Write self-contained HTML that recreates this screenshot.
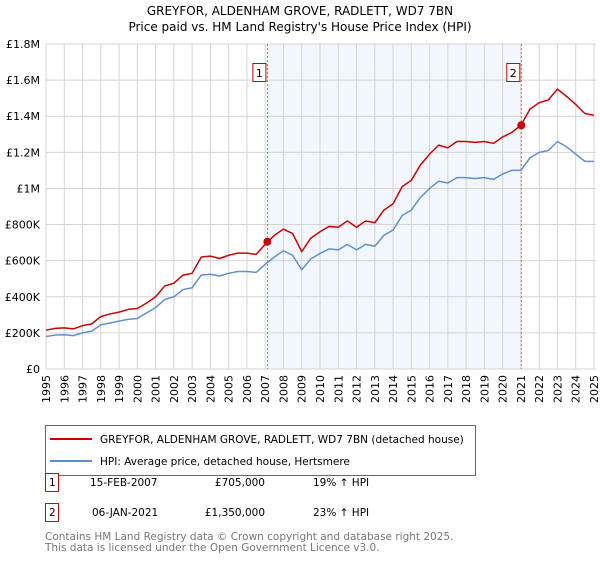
<!DOCTYPE html>
<html><head><meta charset="utf-8"><style>
body{margin:0;background:#fff;font-family:"Liberation Sans","DejaVu Sans",sans-serif}
svg text{font-family:"DejaVu Sans","Liberation Sans",sans-serif}
</style></head><body>
<svg width="600" height="560" viewBox="0 0 600 560">
<text x="300" y="15" text-anchor="middle" font-size="12">GREYFOR, ALDENHAM GROVE, RADLETT, WD7 7BN</text>
<text x="300" y="31" text-anchor="middle" font-size="12">Price paid vs. HM Land Registry's House Price Index (HPI)</text>
<g id="plot"></g>
<g>
<rect x="45.5" y="425.5" width="430" height="50" fill="#fff" stroke="#666"/>
<line x1="50" y1="439" x2="92" y2="439" stroke="#cc0000" stroke-width="2"/>
<text x="100" y="443" font-size="10.5">GREYFOR, ALDENHAM GROVE, RADLETT, WD7 7BN (detached house)</text>
<line x1="50" y1="461" x2="92" y2="461" stroke="#5b8fd0" stroke-width="2"/>
<text x="100" y="465" font-size="10.5">HPI: Average price, detached house, Hertsmere</text>
</g>
<g font-size="10.5">
<rect x="45.5" y="473.5" width="13" height="18" fill="#fff" stroke="#cc0000"/>
<text x="49" y="486">1</text>
<text x="90" y="486">15-FEB-2007</text><text x="265" y="486" text-anchor="end">£705,000</text><text x="313" y="486">19% ↑ HPI</text>
<rect x="45.5" y="503.5" width="13" height="18" fill="#fff" stroke="#cc0000"/>
<text x="49" y="516">2</text>
<text x="92" y="516">06-JAN-2021</text><text x="265" y="516" text-anchor="end">£1,350,000</text><text x="313" y="516">23% ↑ HPI</text>
</g>
<text x="45" y="540" font-size="10.5" fill="#777">Contains HM Land Registry data © Crown copyright and database right 2025.</text>
<text x="45" y="551" font-size="10.5" fill="#777">This data is licensed under the Open Government Licence v3.0.</text>
</svg>
<script>
const years=[1995,1996,1997,1998,1999,2000,2001,2002,2003,2004,2005,2006,2007,2008,2009,2010,2011,2012,2013,2014,2015,2016,2017,2018,2019,2020,2021,2022,2023,2024,2025];
const yTicks=[0,200000,400000,600000,800000,1000000,1200000,1400000,1600000,1800000];
const yTickLabels=["£0","£200K","£400K","£600K","£800K","£1M","£1.2M","£1.4M","£1.6M","£1.8M"];
const hpiK=[180,188,190,185,200,210,245,255,265,275,280,310,340,385,400,440,450,520,525,515,530,540,540,535,580,620,655,630,550,610,640,665,660,690,660,690,680,740,770,850,880,950,1000,1040,1030,1060,1060,1055,1060,1050,1080,1100,1100,1170,1200,1210,1260,1230,1190,1150,1150];
const priceK=[215,225,228,222,240,250,290,305,315,330,335,365,400,460,475,520,530,620,625,612,630,642,642,635,690,740,775,750,650,725,760,790,785,820,785,820,810,880,915,1010,1045,1130,1190,1240,1225,1260,1260,1255,1260,1250,1285,1310,1350,1440,1475,1490,1550,1510,1465,1415,1405];
const saleDates=[2007.12,2021.02];
const salePrices=[705000,1350000];
const saleLabels=["1","2"];
const NS="http://www.w3.org/2000/svg";
const X0=46,X1=594,Y0=369,Y1=44;
const xs=y=>X0+(y-1995)/30*(X1-X0);
const ys=v=>Y0-v/1800000*(Y0-Y1);
const g=document.getElementById('plot');
function mk(t,a,p){const e=document.createElementNS(NS,t);for(const k in a)e.setAttribute(k,a[k]);(p||g).appendChild(e);return e;}
const sh=mk('rect',{x:xs(saleDates[0]),y:Y1,width:xs(saleDates[1])-xs(saleDates[0]),height:Y0-Y1,fill:'#eef3fc',opacity:0.75});


years.forEach(y=>{const l=mk('line',{x1:xs(y),x2:xs(y),y1:Y1,y2:Y0,stroke:'#d4d4d4'});


const t=mk('text',{x:0,y:0,'font-size':11,transform:`translate(${xs(y)+4},${Y0+34}) rotate(-90)`});t.textContent=y;

});
yTicks.forEach((v,i)=>{const l=mk('line',{x1:X0,x2:X1+2,y1:ys(v),y2:ys(v),stroke:'#d4d4d4'});


const t=mk('text',{x:X0-6,y:ys(v)+4,'font-size':11,'text-anchor':'end'});t.textContent=yTickLabels[i];

});
saleDates.forEach((d,i)=>{const l=mk('line',{x1:xs(d),x2:xs(d),y1:Y1,y2:Y0,stroke:'#e06060','stroke-dasharray':'2,2'});


const r=mk('rect',{x:xs(d)-14.5,y:63.5,width:13,height:18,fill:'#fff',stroke:'#cc0000'});


const t=mk('text',{x:xs(d)-8,y:77,'font-size':11,'text-anchor':'middle'});t.textContent=saleLabels[i];

});
function series(arr,col,name){const n=arr.length;const pts=arr.map((v,i)=>xs(1995+i*30/(n-1))+','+ys(v*1000)).join(' ');
const p=mk('polyline',{points:pts,fill:'none',stroke:col,'stroke-width':1.5,'stroke-linejoin':'round'});

}
series(hpiK,'#6090d0','hpi-line');
series(priceK,'#cc0000','price-paid-line');
saleDates.forEach((d,i)=>{const c=mk('circle',{cx:xs(d),cy:ys(salePrices[i]),r:4,fill:'#cc0000'});

});
</script>
</body></html>
